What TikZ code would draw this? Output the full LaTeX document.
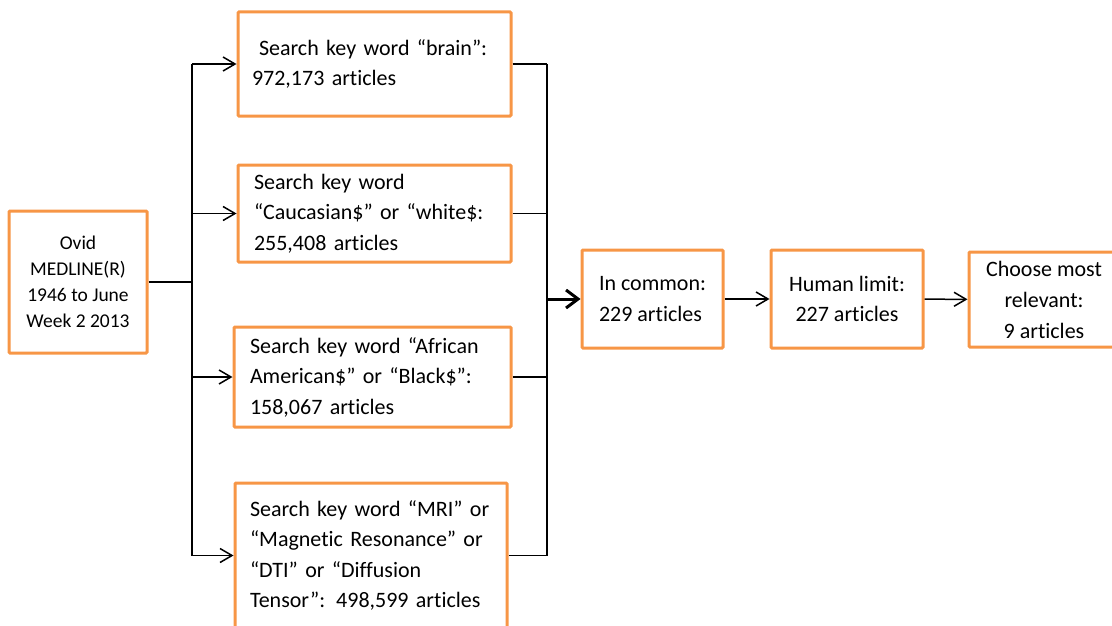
\documentclass[tikz,border=0pt]{standalone}
\usepackage{fontspec}
\setmainfont{Carlito}[Ligatures=NoCommon]
\usetikzlibrary{arrows.meta}
\definecolor{boxorange}{HTML}{F79646}
\begin{document}
\begin{tikzpicture}[x=1pt,y=-1pt,
  box/.style={draw=boxorange, line width=3pt, fill=white, inner sep=0pt, rounded corners=1pt,
    font=\fontsize{22}{30.5}\selectfont},
  conn/.style={line width=1.5pt, draw=black},
  arr/.style={conn, -{Straight Barb[length=12pt,width=14pt]}},
  thickarr/.style={line width=3pt, draw=black, -{Straight Barb[length=12pt,width=18pt]}}
]
\useasboundingbox (0,0) rectangle (1112,626);
\clip (0,0) rectangle (1112,626);

\node[box, minimum width=138pt, minimum height=142pt, align=center,
  font=\fontsize{19.5}{26}\selectfont] (ovid) at (78,282)
  {Ovid\\MEDLINE(R)\\1946 to June\\Week 2 2013};

\node[box, minimum width=273pt, minimum height=104pt, text width=245pt, align=left] (brain) at (374.5,64)
  {\hspace*{7pt}Search key word “brain”:\\972,173 articles};

\node[box, minimum width=273pt, minimum height=97pt, text width=241pt, align=left] (cauc) at (374.5,213.5)
  {Search key word\\“Caucasian\$” or “white\$:\\255,408 articles};

\node[box, minimum width=277pt, minimum height=100pt, text width=245pt, align=left] (afr) at (372.5,377)
  {Search key word “African\\American\$” or “Black\$”:\\158,067 articles};

\node[box, minimum width=272pt, minimum height=145pt, text width=242pt, align=left] (mri) at (371,555.5)
  {Search key word “MRI” or\\“Magnetic Resonance” or\\“DTI” or “Diffusion\\Tensor”: 498,599 articles};

\node[box, minimum width=141pt, minimum height=98pt, align=left] (common) at (652.5,299)
  {In common:\\229 articles};

\node[box, minimum width=152pt, minimum height=98pt, align=center] (human) at (847,299)
  {Human limit:\\227 articles};

\node[box, minimum width=150pt, minimum height=95pt, align=center,
  font=\fontsize{22}{31}\selectfont] (choose) at (1044,299.5)
  {Choose most\\relevant:\\9 articles};

\coordinate (lbus) at (192,0);
\coordinate (rbus) at (547,0);

% left bus
\draw[conn] (ovid.east) -- (ovid.east -| lbus);
\draw[conn] (brain.west -| lbus) -- (mri.west -| lbus);
\draw[arr] (brain.west -| lbus) -- (brain.west);
\draw[arr] (cauc.west -| lbus) -- (cauc.west);
\draw[arr] (afr.west -| lbus) -- (afr.west);
\draw[arr] (mri.west -| lbus) -- (mri.west);

% right bus
\draw[conn] (brain.east) -- (brain.east -| rbus);
\draw[conn] (cauc.east) -- (cauc.east -| rbus);
\draw[conn] (afr.east) -- (afr.east -| rbus);
\draw[conn] (mri.east) -- (mri.east -| rbus);
\draw[conn] (brain.east -| rbus) -- (mri.east -| rbus);
\draw[thickarr] (common.west -| rbus) -- (common.west);

\draw[arr] (common) -- (human);
\draw[arr] (human) -- (choose);
\end{tikzpicture}
\end{document}
